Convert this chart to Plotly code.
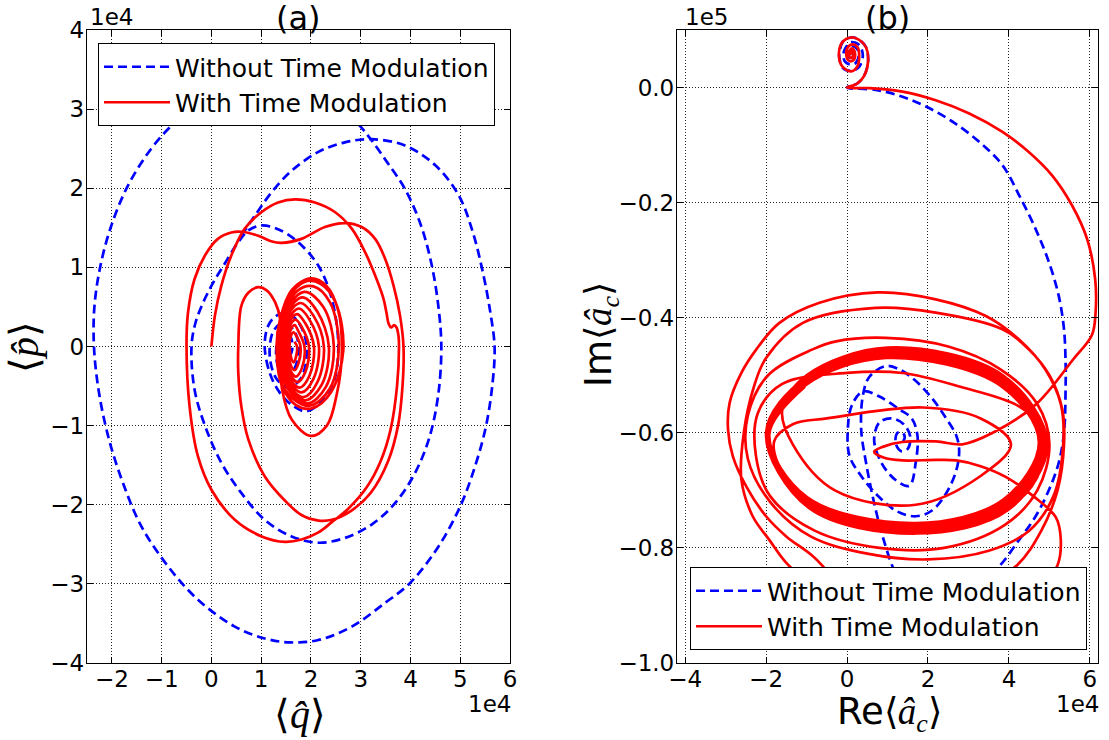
import plotly.graph_objects as go

# ---------------- Panel (a): <q> vs <p>, both in units of 1e4 ----------------
a_blue_upper = [(0.60,1.40),(0.87,1.65),(1.21,1.95),(1.61,2.22),(2.15,2.46),(2.68,2.58),(3.22,2.62),
                (3.89,2.54),(4.50,2.29),(4.97,1.91),(5.25,1.45),(5.45,0.95),(5.60,0.45),(5.69,0.00)]
a_blue_outer = [(5.65,-0.46),(5.52,-1.00),(5.30,-1.51),(5.00,-2.02),(4.56,-2.53),(3.99,-2.99),(3.49,-3.24),
                (2.82,-3.54),(2.15,-3.71),(1.58,-3.74),(1.07,-3.69),(0.47,-3.54),(-0.27,-3.20),(-0.87,-2.78),
                (-1.41,-2.27),(-1.78,-1.72),(-2.06,-1.17),(-2.26,-0.58),(-2.36,0.00),(-2.35,0.51),(-2.23,1.02),
                (-2.01,1.53),(-1.68,2.03),(-1.21,2.50),(-0.77,2.81),(-0.20,3.10),(0.60,3.30),(1.50,3.35),
                (2.30,3.15),(2.95,2.81)]
a_blue_middle = [(3.20,2.62),(3.53,2.33),(3.89,1.99),(4.20,1.55),(4.42,1.05),(4.56,0.51),(4.62,0.00),
                 (4.56,-0.60),(4.38,-1.15),(4.09,-1.60),(3.69,-1.98),(3.22,-2.25),(2.68,-2.42),(2.15,-2.48),
                 (1.61,-2.40),(1.07,-2.19),(0.60,-1.85),(0.20,-1.47),(-0.13,-1.00),(-0.34,-0.54),(-0.40,0.00),
                 (-0.32,0.30),(-0.17,0.55),(0.03,0.80),(0.27,1.05),(0.54,1.32)]
a_blue_inner = [(0.75,1.47),(1.01,1.53),(1.35,1.48),(1.74,1.32),(2.15,1.02),(2.42,0.60),(2.55,0.00),
                (2.45,-0.46),(2.18,-0.71),(1.91,-0.82),(1.64,-0.75),(1.37,-0.58),(1.17,-0.33),(1.07,0.01),
                (1.14,0.26),(1.31,0.39),(1.55,0.42),(1.80,0.25),(1.92,-0.05),(1.80,-0.40),(1.55,-0.52),
                (1.30,-0.40),(1.17,-0.10),(1.25,0.20),(1.45,0.30),(1.68,0.18),(1.75,-0.10),(1.60,-0.33),
                (1.38,-0.30),(1.30,-0.05),(1.40,0.15),(1.58,0.13),(1.62,-0.05),(1.50,-0.18),(1.42,-0.05),
                (1.50,0.05),(1.54,0.00)]

a_red_loops = [(0.00,0.00),(0.07,0.39),(0.20,0.77),(0.40,1.15),(0.67,1.49),(1.01,1.70),(1.34,1.82),(1.68,1.86),
               (2.08,1.82),(2.48,1.70),(2.82,1.49),(3.09,1.19),(3.32,0.85),(3.46,0.60),(3.52,0.42),(3.56,0.29),
               (3.61,0.24),(3.67,0.27),(3.72,0.24),(3.76,0.13),(3.77,0.00),(3.73,-0.50),(3.60,-1.05),(3.40,-1.45),
               (3.12,-1.78),(2.75,-2.05),(2.42,-2.22),(2.15,-2.35),(1.81,-2.44),(1.48,-2.47),(1.01,-2.40),
               (0.47,-2.19),(0.00,-1.81),(-0.27,-1.39),(-0.44,-0.75),(-0.50,0.00),(-0.47,0.43),(-0.34,0.85),
               (-0.13,1.15),(0.13,1.36),(0.40,1.44),(0.60,1.45),(0.94,1.40),(1.20,1.33),(1.41,1.31),(1.81,1.36),
               (2.28,1.51),(2.68,1.56),(3.02,1.51),(3.29,1.36),(3.49,1.11),(3.66,0.77),(3.79,0.39),(3.86,0.00),
               (3.84,-0.50),(3.75,-1.00),(3.55,-1.45),(3.20,-1.85),(2.80,-2.08),(2.42,-2.19),(2.15,-2.20),
               (1.81,-2.13),(1.48,-1.95),(1.07,-1.64),(0.74,-1.17),(0.60,-0.75),(0.54,-0.33),(0.54,0.00),
               (0.60,0.51),(0.74,0.68),(0.94,0.75),(1.11,0.71),(1.28,0.56),(1.38,0.35),(1.38,0.00),(1.42,-0.54),
               (1.62,-0.93),(2.00,-1.13),(2.32,-1.00),(2.52,-0.60),(2.62,-0.10)]
a_red_cluster = [(2.55,0.45),(2.32,0.76),(2.00,0.86),(1.62,0.72),(1.38,0.35),(1.31,0.00),(1.42,-0.50),
                 (1.70,-0.74),(2.02,-0.78),(2.40,-0.58),(2.65,-0.05),
                 (2.50,0.55),(2.20,0.79),(1.88,0.82),(1.52,0.58),(1.33,0.02),(1.47,-0.54),(1.96,-0.75),
                 (2.38,-0.53),(2.56,0.02),
                 (2.38,0.56),(2.05,0.76),(1.72,0.70),(1.47,0.42),(1.35,0.00),(1.52,-0.52),(1.93,-0.72),
                 (2.30,-0.51),(2.46,0.00),
                 (2.25,0.50),(1.87,0.69),(1.52,0.48),(1.37,0.00),(1.52,-0.49),(1.89,-0.68),(2.22,-0.48),
                 (2.36,0.00),
                 (2.13,0.44),(1.83,0.62),(1.53,0.44),(1.40,0.00),(1.53,-0.46),(1.85,-0.64),(2.13,-0.45),
                 (2.26,0.00),
                 (2.05,0.39),(1.79,0.55),(1.53,0.39),(1.42,0.00),(1.53,-0.41),(1.81,-0.58),(2.05,-0.41),
                 (2.16,0.00),
                 (1.97,0.34),(1.76,0.48),(1.54,0.34),(1.45,0.00),(1.54,-0.37),(1.77,-0.52),(1.97,-0.37),
                 (2.06,0.00),
                 (1.89,0.29),(1.72,0.41),(1.55,0.29),(1.48,0.00),(1.55,-0.32),(1.73,-0.45),(1.89,-0.32),
                 (1.96,0.00),
                 (1.82,0.24),(1.69,0.34),(1.56,0.24),(1.51,0.00),(1.56,-0.27),(1.70,-0.38),(1.82,-0.27),
                 (1.87,0.00),
                 (1.75,0.19),(1.67,0.27),(1.58,0.19),(1.54,0.00),(1.58,-0.21),(1.67,-0.30),(1.75,-0.21),
                 (1.79,0.00),
                 (1.71,0.13),(1.65,0.18),(1.59,0.12),(1.57,0.00),(1.60,-0.14),(1.65,-0.20),(1.70,-0.13),
                 (1.72,0.00),(1.67,0.06)]

# ---------------- Panel (b): Re<a_c> (1e4) vs Im<a_c> (1e5) ----------------
b_blue_spiral = [(0.10,0.057),(0.07,0.060),(0.11,0.064),(0.15,0.057),(0.10,0.051),(0.02,0.056),(0.05,0.066),
                 (0.12,0.072),(0.25,0.067),(0.29,0.056),(0.22,0.043),(0.10,0.040),(-0.05,0.045),(-0.09,0.058),
                 (-0.02,0.071),(0.10,0.079),(0.30,0.074),(0.39,0.056),(0.30,0.036),(0.10,0.029),(-0.10,0.034),
                 (-0.19,0.052),(-0.18,0.064),(-0.10,0.080),(0.10,0.087),(0.30,0.083),(0.47,0.070),(0.52,0.045),
                 (0.42,0.020),(0.25,0.007)]
b_blue_main = [(0.00,0.000),(0.71,-0.004),(1.37,-0.016),(1.95,-0.033),(2.60,-0.059),(3.26,-0.094),(3.84,-0.135),
               (4.25,-0.187),(4.66,-0.246),(4.99,-0.304),(5.23,-0.362),(5.36,-0.420),(5.40,-0.480),(5.40,-0.520),
               (5.36,-0.600),(5.23,-0.652),(4.99,-0.699),(4.66,-0.745),(4.25,-0.786),(3.72,-0.835),(3.00,-0.875),
               (2.00,-0.895),(1.40,-0.870),(1.14,-0.835),(0.88,-0.780),(0.67,-0.722),(0.47,-0.652),(0.35,-0.594),
               (0.39,-0.536),(0.55,-0.503),(0.96,-0.484),(1.30,-0.490),(1.70,-0.510),(2.10,-0.540),(2.45,-0.575),
               (2.70,-0.605),(2.77,-0.630),(2.70,-0.665),(2.45,-0.705),(2.10,-0.735),(1.70,-0.745),(1.25,-0.737),
               (0.80,-0.712),(0.35,-0.675),(0.06,-0.640),(0.02,-0.594),(0.12,-0.552),(0.40,-0.528),(0.80,-0.537),
               (1.29,-0.559),(1.60,-0.575),(1.74,-0.605),(1.70,-0.650),(1.54,-0.692),(1.20,-0.682),(0.85,-0.652),
               (0.67,-0.612),(0.80,-0.582),(1.10,-0.575),(1.40,-0.585),(1.56,-0.606),(1.50,-0.628),(1.34,-0.632),
               (1.20,-0.618),(1.25,-0.600),(1.38,-0.600),(1.42,-0.610),(1.36,-0.614),(1.34,-0.608)]

b_red_spiral = [(0.10,0.057),(0.08,0.060),(0.12,0.063),(0.15,0.057),(0.11,0.051),(0.05,0.055),(0.07,0.065),
                (0.14,0.068),(0.20,0.058),(0.15,0.047),(0.04,0.047),(-0.02,0.058),(0.02,0.070),(0.12,0.075),
                (0.26,0.070),(0.30,0.055),(0.25,0.036),(0.10,0.028),(-0.12,0.037),(-0.20,0.060),(-0.10,0.080),
                (0.10,0.087),(0.30,0.083),(0.47,0.070),(0.52,0.045),(0.42,0.020),(0.25,0.007)]
b_red_arc = [(0.00,0.000),(0.55,-0.001),(1.37,-0.007),(2.19,-0.022),(3.02,-0.045),(3.84,-0.077),(4.49,-0.112),
             (5.07,-0.153),(5.56,-0.205),(5.93,-0.263),(6.13,-0.333),(6.14,-0.391),(6.05,-0.430),(5.58,-0.473),
             (4.66,-0.551),(3.60,-0.600),(2.85,-0.620),(2.20,-0.615),(1.37,-0.616),(0.90,-0.624),(0.67,-0.633),
             (0.90,-0.643),(1.37,-0.648),(2.20,-0.647),(2.70,-0.648),(3.30,-0.658),(3.93,-0.677),(4.60,-0.710),
             (5.16,-0.747),(5.28,-0.785),(5.20,-0.830),(4.70,-0.875),(3.60,-0.910),(2.20,-0.930),(0.60,-0.920),
             (-0.70,-0.875),(-1.50,-0.826),(-1.92,-0.786),(-2.33,-0.745),(-2.61,-0.681),(-2.55,-0.600),
             (-2.30,-0.520),(-2.00,-0.470),(-1.09,-0.409),(0.71,-0.383),(2.19,-0.391),(3.84,-0.420),(4.49,-0.455)]
b_red_wide = [(5.00,-0.500),(5.32,-0.560),(5.36,-0.620),(5.20,-0.700),(4.80,-0.770),(4.20,-0.830),(3.00,-0.880),
              (1.50,-0.900),(0.00,-0.870),(-0.85,-0.814),(-1.50,-0.780),(-2.00,-0.745),(-2.49,-0.693),
              (-2.82,-0.641),(-2.94,-0.594),(-2.90,-0.548),(-2.61,-0.496),(-2.24,-0.455),(-1.67,-0.409),
              (-0.68,-0.374),(0.76,-0.356),(2.19,-0.368),(3.43,-0.397),(4.25,-0.438),(4.90,-0.490),(5.28,-0.550),
              (5.34,-0.620),(5.10,-0.710),(4.50,-0.770),(3.50,-0.805),(2.00,-0.820),(0.50,-0.810),(-0.90,-0.780),
              (-1.90,-0.720),(-2.45,-0.645),(-2.45,-0.570),(-1.95,-0.500),(-0.85,-0.455),(-0.27,-0.441),
              (0.96,-0.435),(2.50,-0.450),(3.80,-0.490),(4.70,-0.550),(5.00,-0.620),(4.70,-0.700),(3.90,-0.760),
              (2.40,-0.800),(0.80,-0.800),(-0.80,-0.770),(-1.90,-0.710),(-2.25,-0.640),(-2.20,-0.565),
              (-1.60,-0.515),(0.00,-0.496),(1.37,-0.496),(2.80,-0.520),(4.25,-0.554),(4.83,-0.594),(4.80,-0.660),
              (4.20,-0.720),(2.80,-0.760),(1.30,-0.772),(-0.40,-0.740),(-1.50,-0.680),(-1.80,-0.615),
              (-1.34,-0.585),(-0.50,-0.575),(1.87,-0.556),(3.30,-0.575),(4.05,-0.620),(3.30,-0.675),(1.70,-0.725),
              (-0.30,-0.700),(-1.34,-0.620),(-1.60,-0.560)]
b_red_band = [(-1.00,-0.500),(1.00,-0.452),(3.85,-0.500),(4.95,-0.620),(3.98,-0.734),(1.70,-0.775),(-0.95,-0.730),(-2.00,-0.600),
              (-1.01,-0.503),(1.00,-0.455),(3.84,-0.503),(4.91,-0.619),(3.96,-0.731),(1.70,-0.772),(-0.95,-0.727),(-1.99,-0.600),
              (-1.02,-0.506),(0.99,-0.458),(3.83,-0.506),(4.88,-0.618),(3.94,-0.728),(1.70,-0.769),(-0.96,-0.724),(-1.97,-0.601),
              (-1.02,-0.509),(0.98,-0.461),(3.82,-0.509),(4.85,-0.618),(3.92,-0.725),(1.70,-0.766),(-0.96,-0.721),(-1.96,-0.601),
              (-1.03,-0.512),(0.98,-0.464),(3.81,-0.512),(4.81,-0.617),(3.90,-0.722),(1.70,-0.763),(-0.97,-0.718),(-1.95,-0.602),
              (-1.03,-0.515),(0.97,-0.467),(3.80,-0.515),(4.78,-0.617),(3.88,-0.719),(1.70,-0.760),(-0.97,-0.715),(-1.93,-0.602),
              (-1.04,-0.518),(0.97,-0.470),(3.79,-0.518),(4.74,-0.616),(3.86,-0.716),(1.70,-0.757),(-0.98,-0.712),(-1.92,-0.603),
              (-1.04,-0.520)]

# tick labels
a_xticks = [-2, -1, 0, 1, 2, 3, 4, 5, 6]
a_yticks = [-4, -3, -2, -1, 0, 1, 2, 3, 4]
b_xticks = [-4, -2, 0, 2, 4, 6]
b_yticks = [-1.0, -0.8, -0.6, -0.4, -0.2, 0.0]

LEG_BLUE = "Without Time Modulation"
LEG_RED = "With Time Modulation"


def xs(*segs):
    return [p[0] for s in segs for p in s]


def ys(*segs):
    return [p[1] for s in segs for p in s]


def fmt(v, dec=0):
    s = f"{abs(v):.{dec}f}"
    return ("\u2212" + s) if v < 0 else s


W, H = 1109, 740
LW = 2.7
blue_line = dict(color="#0000ff", width=LW, dash="9px,5px", shape="spline", smoothing=1.0)
red_line = dict(color="#ff0000", width=LW, shape="spline", smoothing=1.0)

fig = go.Figure()
fig.add_trace(go.Scatter(x=xs(a_blue_upper, a_blue_outer, a_blue_middle, a_blue_inner),
                         y=ys(a_blue_upper, a_blue_outer, a_blue_middle, a_blue_inner),
                         mode="lines", line=blue_line, name=LEG_BLUE, legend="legend",
                         xaxis="x", yaxis="y"))
fig.add_trace(go.Scatter(x=xs(a_red_loops, a_red_cluster), y=ys(a_red_loops, a_red_cluster),
                         mode="lines", line=red_line, name=LEG_RED, legend="legend",
                         xaxis="x", yaxis="y"))
fig.add_trace(go.Scatter(x=xs(b_blue_spiral, b_blue_main), y=ys(b_blue_spiral, b_blue_main),
                         mode="lines", line=blue_line, name=LEG_BLUE, legend="legend2",
                         xaxis="x2", yaxis="y2"))
fig.add_trace(go.Scatter(x=xs(b_red_spiral, b_red_arc, b_red_wide, b_red_band),
                         y=ys(b_red_spiral, b_red_arc, b_red_wide, b_red_band),
                         mode="lines", line=red_line, name=LEG_RED, legend="legend2",
                         xaxis="x2", yaxis="y2"))

ydom = [1 - 663 / H, 1 - 30 / H]
axis_common = dict(showline=True, linecolor="black", linewidth=1.3, mirror="ticks",
                   ticks="inside", ticklen=6, tickwidth=1.2, tickcolor="black",
                   showgrid=True, gridcolor="rgba(0,0,0,0.85)", griddash="1px,2px", gridwidth=1,
                   zeroline=False, automargin=False, tickmode="array",
                   tickfont=dict(size=23, family="DejaVu Sans", color="black"))

legend_common = dict(xanchor="left", yanchor="top", bgcolor="white", bordercolor="black",
                     borderwidth=1, font=dict(size=25, family="DejaVu Sans"), itemwidth=66,
                     traceorder="normal")

fig.update_layout(
    width=W, height=H, margin=dict(l=0, r=0, t=0, b=0),
    paper_bgcolor="white", plot_bgcolor="white",
    font=dict(family="DejaVu Sans", size=23, color="black"),
    xaxis=dict(domain=[87 / W, 510 / W], range=[-2.5, 6], anchor="y",
               tickvals=a_xticks, ticktext=[fmt(v) for v in a_xticks], ticklabelstandoff=-5, **axis_common),
    yaxis=dict(domain=ydom, range=[-4, 4], anchor="x",
               tickvals=a_yticks, ticktext=[fmt(v) for v in a_yticks], ticklabelstandoff=-3, **axis_common),
    xaxis2=dict(domain=[677 / W, 1098 / W], range=[-4.2, 6.2], anchor="y2",
                tickvals=b_xticks, ticktext=[fmt(v) for v in b_xticks], ticklabelstandoff=-5, **axis_common),
    yaxis2=dict(domain=ydom, range=[-1.0, 0.1], anchor="x2",
                tickvals=b_yticks, ticktext=[fmt(v, 1) for v in b_yticks], ticklabelstandoff=-3, **axis_common),
    legend=dict(x=98 / W, y=1 - 43 / H, **legend_common),
    legend2=dict(x=690 / W, y=1 - 567 / H, **legend_common),
    showlegend=True,
)

serif = "Liberation Serif"
ann = [
    dict(text="(a)", x=298.5 / W, y=1 - 18 / H, font=dict(size=32)),
    dict(text="(b)", x=887.5 / W, y=1 - 18 / H, font=dict(size=32)),
    dict(text="1e4", x=88 / W, y=1 - 17 / H, xanchor="left", font=dict(size=23)),
    dict(text="1e4", x=513 / W, y=1 - 704 / H, xanchor="right", font=dict(size=23)),
    dict(text="1e5", x=683 / W, y=1 - 17 / H, xanchor="left", font=dict(size=23)),
    dict(text="1e4", x=1101 / W, y=1 - 704 / H, xanchor="right", font=dict(size=23)),
    dict(text="\u27e8<i>q\u0302</i>\u27e9", x=300 / W, y=1 - 714 / H, font=dict(size=40, family=serif)),
    dict(text="\u27e8<i>p\u0302</i>\u27e9", x=24 / W, y=1 - 347 / H, textangle=-90,
         font=dict(size=40, family=serif)),
    dict(text="Re<span style='font-family:Liberation Serif'>\u27e8<i>\u00e2</i><sub><i>c</i></sub>\u27e9</span>",
         x=889 / W, y=1 - 714 / H, font=dict(size=37)),
    dict(text="Im<span style='font-family:Liberation Serif'>\u27e8<i>\u00e2</i><sub><i>c</i></sub>\u27e9</span>",
         x=601 / W, y=1 - 335 / H, textangle=-90, font=dict(size=37)),
]
for a in ann:
    a.setdefault("xanchor", "center")
    a.update(xref="paper", yref="paper", yanchor="middle", showarrow=False)
    fig.add_annotation(**a)

fig.write_html("out.html")
